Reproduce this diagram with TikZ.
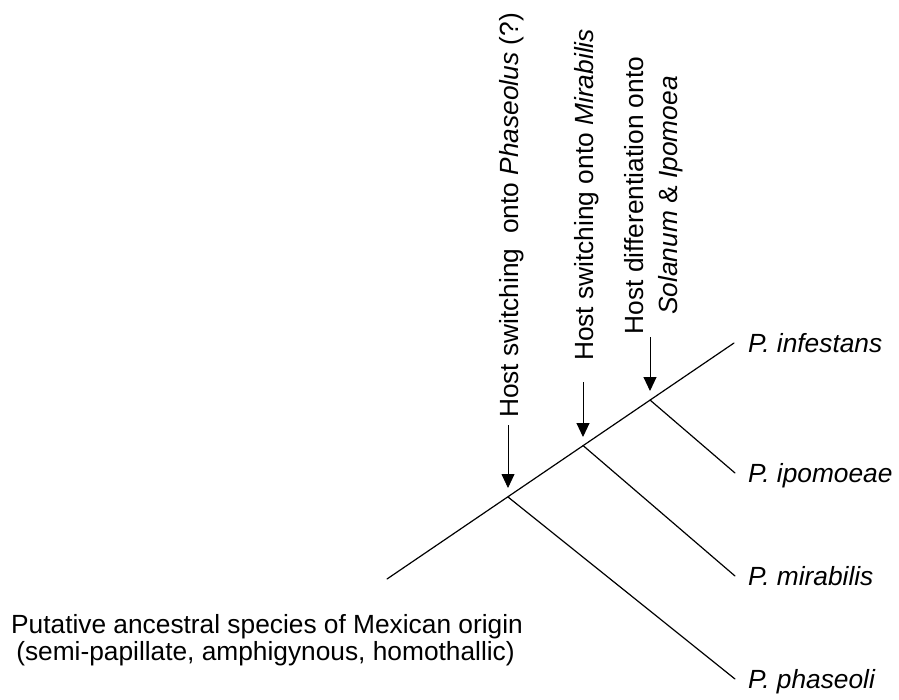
\documentclass[tikz,border=0pt]{standalone}
\usepackage{fontspec}
\setmainfont{Liberation Sans}
\usetikzlibrary{arrows.meta}
\begin{document}
\begin{tikzpicture}[x=1pt,y=-1pt,
  branch/.style={line width=1.2pt, line cap=round},
  hostarrow/.style={line width=1pt, -{Triangle[length=14pt,width=13pt]}},
  lbl/.style={font=\fontsize{26.3}{30}\selectfont, inner sep=0pt},
  vlbl/.style={lbl, rotate=90, anchor=base},
  species/.style={lbl, anchor=base west}]
\useasboundingbox (0,0) rectangle (899,699);
% tree points
\coordinate (root) at (387,579);
\coordinate (n1) at (508,497);
\coordinate (n2) at (583,445.5);
\coordinate (n3) at (650,400);
\coordinate (tinf) at (734,343);
\coordinate (tipo) at (735,473);
\coordinate (tmir) at (735,576);
\coordinate (tpha) at (735,679);
\draw[branch] (root) -- (tinf);
\draw[branch] (n1) -- (tpha);
\draw[branch] (n2) -- (tmir);
\draw[branch] (n3) -- (tipo);
% species labels
\node[species] (linf) at (748,352) {\itshape P. infestans};
\node[species] (lipo) at (748,482) {\itshape P. ipomoeae};
\node[species] (lmir) at (748,585) {\itshape P. mirabilis};
\node[species] (lpha) at (748,688) {\itshape P. phaseoli};
% arrows
\coordinate (a1s) at (508,425);
\coordinate (a1e) at (508,488);
\coordinate (a2s) at (583,382);
\coordinate (a2e) at (583,437);
\coordinate (a3s) at (650,337);
\coordinate (a3e) at (650,391);
\draw[hostarrow, line width=0.8pt] (a1s) -- (a1e);
\draw[hostarrow] (a2s) -- (a2e);
\draw[hostarrow] (a3s) -- (a3e);
% vertical labels
\node[vlbl] (h1) at (518,215.5) {Host switching\ \ onto \textit{Phaseolus} (?)};
\node[vlbl] (h2) at (593,195) {Host switching onto \textit{Mirabilis}};
\node[vlbl] (h3a) at (643,195.5) {Host differentiation onto};
\node[vlbl] (h3b) at (677,195.5) {\textit{Solanum} \& \textit{Ipomoea}};
% ancestral label
\node[lbl, anchor=base] (anc1) at (267,633) {Putative ancestral species of Mexican origin};
\node[lbl, anchor=base] (anc2) at (265.5,660) {(semi-papillate, amphigynous, homothallic)};
\end{tikzpicture}
\end{document}
